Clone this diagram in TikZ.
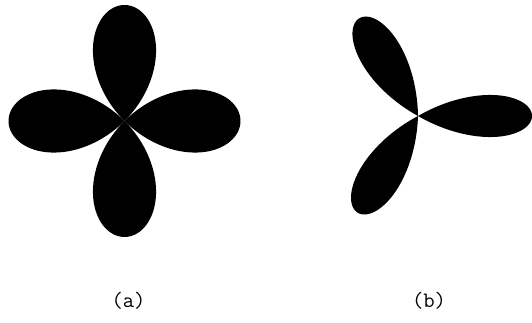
\documentclass[tikz,border=0pt]{standalone}
\begin{document}
\begin{tikzpicture}[x=1pt,y=1pt,
  petal/.style={fill=black},
  lbl/.style={font=\fontsize{22}{24}\selectfont\ttfamily, inner sep=0pt}]
\useasboundingbox (0,0) rectangle (532,323);
% (a) four-petal rose
\coordinate (ca) at (124.5,202);
\foreach \a in {0,90,180,270}{
  \fill[petal, shift={(ca)}, rotate=\a]
    plot[domain=-45:45, samples=80, smooth] ({116*cos(2*\x)*cos(\x)}, {116*cos(2*\x)*sin(\x)}) -- cycle;
}
% (b) three-petal rose
\coordinate (cb) at (418,207);
\foreach \a in {0,121,238}{
  \fill[petal, shift={(cb)}, rotate=\a]
    plot[domain=-30:30, samples=80, smooth] ({114*cos(3*\x)*cos(\x)}, {114*cos(3*\x)*sin(\x)}) -- cycle;
}
\node[lbl] (la) at (128.5,22) {(a)};
\node[lbl] (lb) at (429,22) {(b)};
\end{tikzpicture}
\end{document}
